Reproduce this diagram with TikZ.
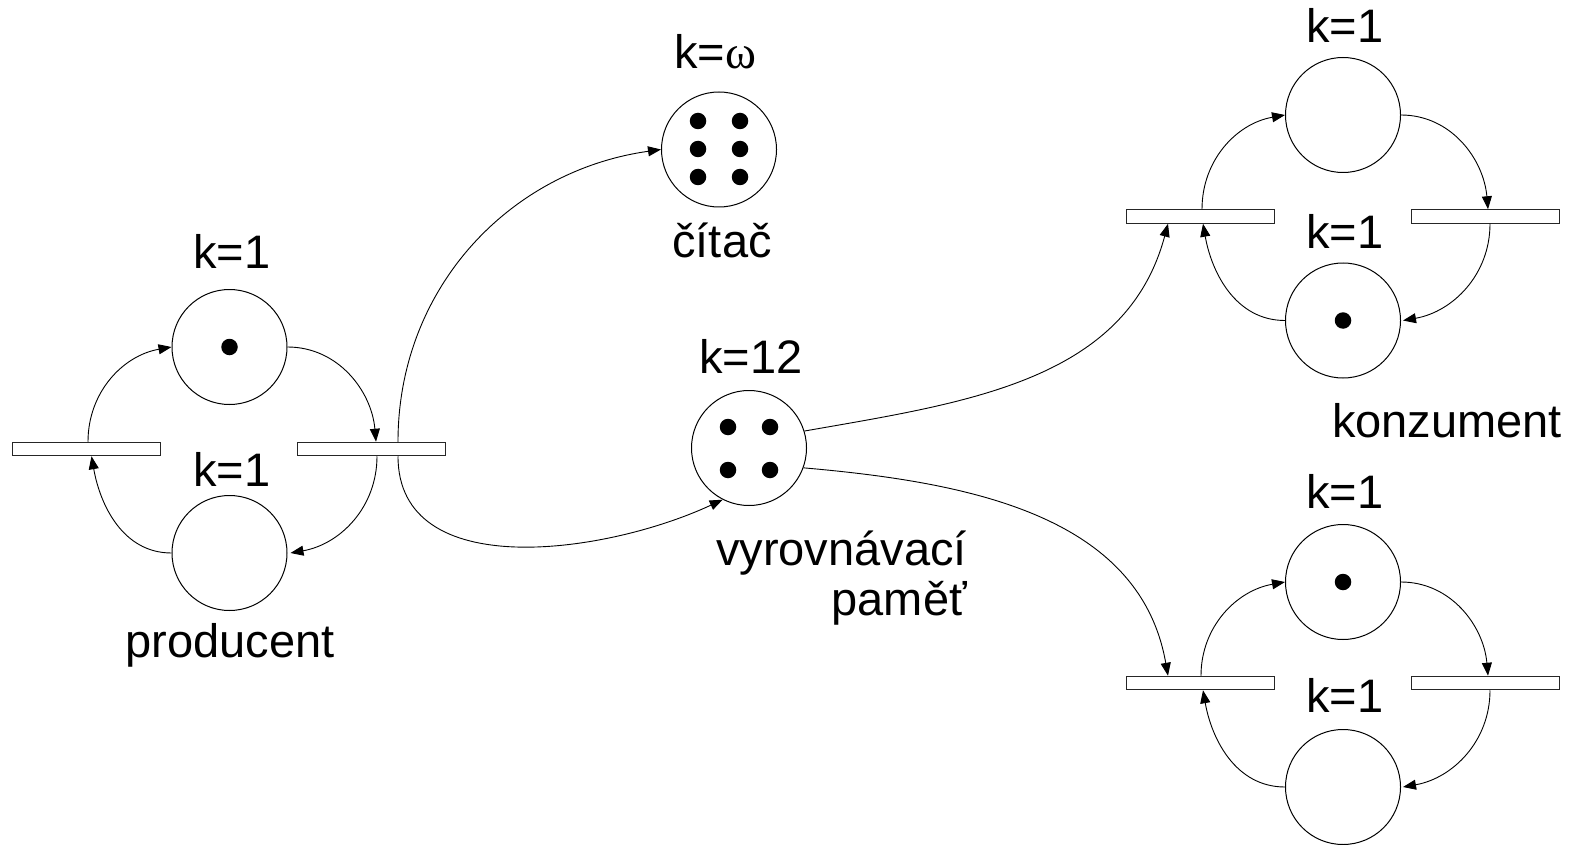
\documentclass[tikz,border=0pt]{standalone}
\usepackage{fontspec}
\setmainfont{Liberation Sans}
\newfontfamily\greekserif{Liberation Serif}
\usetikzlibrary{arrows.meta,calc}

\begin{document}
\begin{tikzpicture}[x=1pt,y=1pt,
  place/.style={circle,draw,line width=1pt,minimum size=115pt,inner sep=0pt},
  trans/.style={rectangle,draw=black!85,fill=white,line width=1pt,minimum width=148pt,minimum height=13.5pt,inner sep=0pt},
  token/.style={circle,fill=black,minimum size=16.5pt,inner sep=0pt},
  arc/.style={line width=0.9pt,-{Triangle[length=13pt,width=10pt]}},
  lab/.style={font=\fontsize{47}{56}\selectfont,inner sep=0pt,anchor=base},
]
\useasboundingbox (0,0) rectangle (1572,-845);

% ---------- producer ----------
\node[place] (pP1) at (229.5,-347) {};
\node[token] (pP1t) at (pP1) {};
\node[place] (pP2) at (229.5,-553) {};
\node[trans] (tP1) at (86.5,-449) {};
\node[trans] (tP2) at (371.5,-449) {};
\node[lab] (kP1) at (232,-269) {k=1};
\node[lab] (kP2) at (232,-486) {k=1};
\node[lab] (lP) at (230,-657) {producent};

\draw[arc] ([xshift=1.5pt]tP1.north) to[out=90,in=190] (pP1.west);
\draw[arc] (pP1.east) to[out=0,in=95] ([xshift=4.5pt]tP2.north);
\draw[arc] ([xshift=5.5pt]tP2.south) to[out=-90,in=10] ([xshift=3pt]pP2.east);
\draw[arc] (pP2.west) to[out=180,in=-80] ([xshift=5pt]tP1.south);

% ---------- counter ----------
\node[place] (cnt) at (719,-149.5) {};
\foreach \i/\x/\y in {1/698/121,2/740/121,3/698/149,4/740/149,5/698/177,6/740/177}
  \node[token] (cntt\i) at (\x,-\y) {};
\node[lab] (kCnt) at (715,-69) {k={\greekserif ω}};
\node[lab] (lCnt) at (722,-258) {čítač};

% ---------- buffer ----------
\node[place] (buf) at (749,-448) {};
\foreach \i/\x/\y in {1/728/427,2/770/427,3/728/470,4/770/470}
  \node[token] (buft\i) at (\x,-\y) {};
\node[lab] (kBuf) at (751,-373) {k=12};
\node[lab,anchor=base east] (lBuf1) at (967,-565) {vyrovnávací};
\node[lab,anchor=base east] (lBuf2) at (967,-615) {paměť};

\draw[arc] ([xshift=26.5pt]tP2.north) to[out=90,in=188] (cnt.west);
\draw[arc] ([xshift=26.5pt]tP2.south) to[out=-90,in=205] (buf.243);

% ---------- consumer 1 ----------
\node[place] (cA1) at (1343,-115) {};
\node[place] (cA2) at (1343,-320.5) {};
\node[token] (cA2t) at (cA2) {};
\node[trans] (tA1) at (1200,-216.5) {};
\node[trans] (tA2) at (1485,-216.5) {};
\node[lab] (kA1) at (1345,-43) {k=1};
\node[lab] (kA2) at (1345,-248) {k=1};
\node[lab] (lC) at (1447,-437) {konzument};

\draw[arc] ([xshift=2pt]tA1.north) to[out=90,in=190] (cA1.west);
\draw[arc] (cA1.east) to[out=0,in=95] ([xshift=3pt]tA2.north);
\draw[arc] ([xshift=5pt]tA2.south) to[out=-90,in=10] ([xshift=2pt]cA2.east);
\draw[arc] (cA2.west) to[out=180,in=-80] ([xshift=3pt]tA1.south);

% ---------- consumer 2 ----------
\node[place] (cB1) at (1343,-582) {};
\node[token] (cB1t) at (cB1) {};
\node[place] (cB2) at (1343,-787) {};
\node[trans] (tB1) at (1200,-683) {};
\node[trans] (tB2) at (1485,-683) {};
\node[lab] (kB1) at (1345,-508) {k=1};
\node[lab] (kB2) at (1345,-712) {k=1};

\draw[arc] ([xshift=1pt]tB1.north) to[out=90,in=190] (cB1.west);
\draw[arc] (cB1.east) to[out=0,in=95] ([xshift=3pt]tB2.north);
\draw[arc] ([xshift=5pt]tB2.south) to[out=-90,in=10] ([xshift=2pt]cB2.east);
\draw[arc] (cB2.west) to[out=180,in=-80] ([xshift=3pt]tB1.south);

% ---------- buffer to consumers ----------
\draw[arc] (buf.17) to[out=10,in=-105] ([xshift=-32pt]tA1.south);
\draw[arc] (buf.-20) to[out=-5,in=100] ([xshift=-32pt]tB1.north);
\end{tikzpicture}
\end{document}
